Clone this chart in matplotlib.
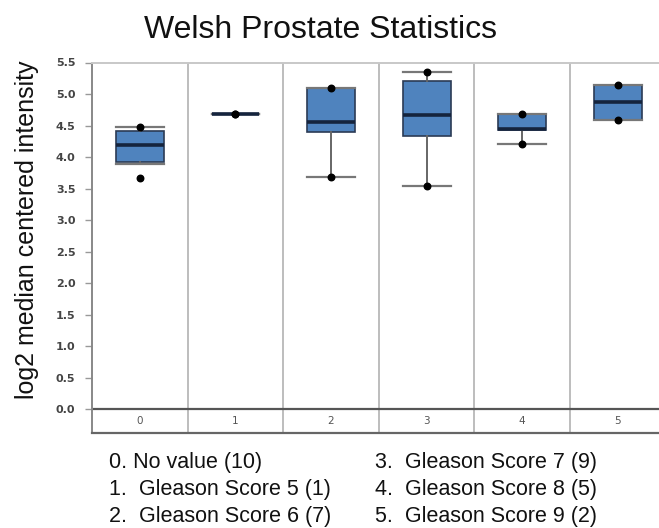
import matplotlib
matplotlib.use("Agg")
import matplotlib.pyplot as plt

# box statistics (log2 median centered intensity)
groups = ["0", "1", "2", "3", "4", "5"]
q1 = [3.92, 4.675, 4.39, 4.34, 4.43, 4.58]
med = [4.19, 4.675, 4.56, 4.66, 4.44, 4.87]
q3 = [4.41, 4.675, 5.10, 5.21, 4.675, 5.15]
whislo = [3.89, 4.675, 3.69, 3.54, 4.20, 4.58]
whishi = [4.47, 4.675, 5.10, 5.35, 4.675, 5.15]
mins = [3.67, 4.675, 3.69, 3.54, 4.20, 4.58]
maxs = [4.47, 4.675, 5.10, 5.35, 4.675, 5.15]

legend_left = ["0. No value (10)", "1.  Gleason Score 5 (1)", "2.  Gleason Score 6 (7)"]
legend_right = ["3.  Gleason Score 7 (9)", "4.  Gleason Score 8 (5)", "5.  Gleason Score 9 (2)"]

plt.rcParams["font.family"] = ["Liberation Sans", "DejaVu Sans"]

fig = plt.figure(figsize=(6.59, 5.28), dpi=100)
ax = fig.add_axes([92 / 659, 1 - 433 / 528, 573.6 / 659, 370.5 / 528])

stats = []
for i in range(len(groups)):
    stats.append(dict(q1=q1[i], med=med[i], q3=q3[i],
                      whislo=whislo[i], whishi=whishi[i], fliers=[]))

pos = list(range(len(groups)))
ax.bxp(stats, positions=pos, widths=0.5, patch_artist=True, showfliers=False,
       boxprops=dict(facecolor="#4f83be", edgecolor="#2b3b55", linewidth=1.2),
       medianprops=dict(color="#15243d", linewidth=2.6),
       whiskerprops=dict(color="#666666", linewidth=1.4),
       capprops=dict(color="#777777", linewidth=1.6),
       capwidths=0.5, zorder=3)

# min / max points
ax.scatter(pos, mins, s=22, color="black", zorder=5)
ax.scatter(pos, maxs, s=22, color="black", zorder=5)

ax.set_xlim(-0.5, 5.5)
ax.set_ylim(-0.38, 5.5)

# column separators
for x in range(1, len(groups)):
    ax.axvline(x - 0.5, color="#bdbdbd", linewidth=1.4, zorder=1)
ax.axhline(0, color="#555555", linewidth=1.6, zorder=2)

ax.set_xticks([])
yt = [i * 0.5 for i in range(12)]
ax.set_yticks(yt)
ax.set_yticklabels([f"{v:.1f}" for v in yt], family="DejaVu Sans",
                   fontsize=8, color="#444444", fontweight="bold")
ax.tick_params(axis="y", length=5, width=1, color="#999999", pad=7)

for i, g in enumerate(groups):
    ax.text(i, -0.19, g, ha="center", va="center", family="DejaVu Sans",
            fontsize=7.5, color="#555555")

for side in ["top", "right"]:
    ax.spines[side].set_color("#c8c8c8")
    ax.spines[side].set_linewidth(1.4)
ax.spines["left"].set_color("#888888")
ax.spines["left"].set_linewidth(1.4)
ax.spines["bottom"].set_color("#666666")
ax.spines["bottom"].set_linewidth(1.6)

fig.text(320 / 659, 1 - 38.5 / 528, "Welsh Prostate Statistics",
         ha="center", va="baseline", fontsize=23, color="#111111")
fig.text(27 / 659, 1 - 230 / 528, "log2 median centered intensity",
         rotation=90, ha="center", va="center", fontsize=18, color="#111111")

for k in range(3):
    yb = 1 - (468 + k * 27) / 528
    fig.text(109 / 659, yb, legend_left[k], va="baseline", fontsize=15.5,
             color="#111111")
    fig.text(375 / 659, yb, legend_right[k], va="baseline", fontsize=15.5,
             color="#111111")

fig.savefig("out.png", dpi=100)
